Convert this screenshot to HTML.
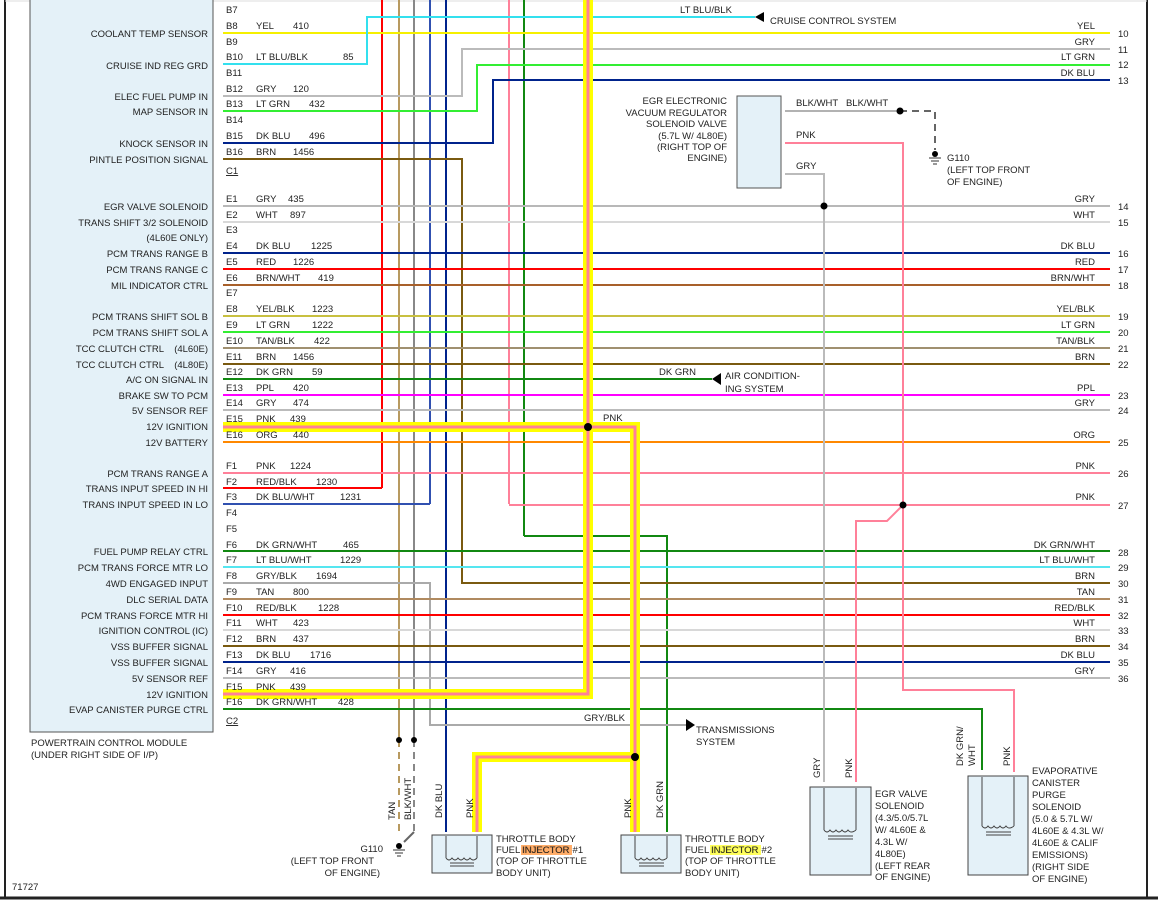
<!DOCTYPE html>
<html><head><meta charset="utf-8"><style>
html,body{margin:0;padding:0;background:#fff;}
svg{display:block;}
text{font-family:"Liberation Sans",Arial,sans-serif;font-size:9.5px;fill:#222;}
.r{text-anchor:end;}
</style></head><body>
<svg width="1158" height="905" viewBox="0 0 1158 905" xmlns="http://www.w3.org/2000/svg">
<rect width="1158" height="905" fill="#fff"/>
<!-- frame -->
<line x1="5" y1="0" x2="5" y2="898" stroke="#222" stroke-width="2"/>
<line x1="1147" y1="0" x2="1147" y2="898" stroke="#222" stroke-width="2"/>
<line x1="0" y1="898" x2="1158" y2="898" stroke="#222" stroke-width="3"/>
<line x1="5" y1="1" x2="1147" y2="1" stroke="#ddd" stroke-width="1"/>
<!-- PCM box -->
<rect x="30" y="-2" width="183" height="734" fill="#e4f1f8" stroke="#555" stroke-width="1"/>
<text x="31" y="746">POWERTRAIN CONTROL MODULE</text>
<text x="31" y="758">(UNDER RIGHT SIDE OF I/P)</text>
<text x="12" y="890">71727</text>

<g fill="none" stroke-width="2">
<!-- verticals -->
<line x1="382" y1="0" x2="382" y2="488" stroke="#ff0000"/>
<line x1="399" y1="0" x2="399" y2="740" stroke="#b89a60"/>
<line x1="414" y1="0" x2="414" y2="740" stroke="#888"/>
<line x1="430" y1="0" x2="430" y2="504" stroke="#3050b0"/>
<line x1="446" y1="0" x2="446" y2="832" stroke="#00238c"/>
<line x1="509" y1="0" x2="509" y2="504" stroke="#ff8099"/>
<line x1="524" y1="0" x2="524" y2="536" stroke="#118811"/>
<polyline points="524,536 667,536 667,832" stroke="#118811"/>
<!-- B rows -->
<polyline points="223,33 1110,33" stroke="#f5f000"/>
<polyline points="223,64 367,64 367,17 755,17" stroke="#33e0ee"/>
<polyline points="223,96 462,96 462,49 1110,49" stroke="#bbb"/>
<polyline points="223,111 477,111 477,65 1110,65" stroke="#33ee33"/>
<polyline points="223,143 493,143 493,80 1110,80" stroke="#00238c"/>
<polyline points="223,159 462,159 462,583 1110,583" stroke="#7a5a10"/>
<!-- E rows -->
<line x1="223" y1="206" x2="1110" y2="206" stroke="#b8b8b8"/>
<line x1="223" y1="222" x2="1110" y2="222" stroke="#d8d8d8"/>
<line x1="223" y1="253" x2="1110" y2="253" stroke="#00238c"/>
<line x1="223" y1="269" x2="1110" y2="269" stroke="#ff0000"/>
<line x1="223" y1="285" x2="1110" y2="285" stroke="#a8602a"/>
<line x1="223" y1="316" x2="1110" y2="316" stroke="#c8c040"/>
<line x1="223" y1="332" x2="1110" y2="332" stroke="#33ee33"/>
<line x1="223" y1="348" x2="1110" y2="348" stroke="#a09070"/>
<line x1="223" y1="364" x2="1110" y2="364" stroke="#7a5a10"/>
<line x1="223" y1="379" x2="712" y2="379" stroke="#118811"/>
<line x1="223" y1="395" x2="1110" y2="395" stroke="#ff00ff"/>
<line x1="223" y1="410" x2="1110" y2="410" stroke="#bbb"/>
<line x1="223" y1="442" x2="1110" y2="442" stroke="#ff8800"/>
<line x1="223" y1="473" x2="1110" y2="473" stroke="#ff8099"/>
<line x1="223" y1="488" x2="382" y2="488" stroke="#ff0000"/>
<line x1="223" y1="504" x2="430" y2="504" stroke="#3050b0"/>
<line x1="509" y1="505" x2="1110" y2="505" stroke="#ff8099"/>
<!-- F rows -->
<line x1="223" y1="551" x2="1110" y2="551" stroke="#118811"/>
<line x1="223" y1="567" x2="1110" y2="567" stroke="#55e6f0"/>
<polyline points="223,583 430,583 430,725 686,725" stroke="#aaa"/>
<line x1="223" y1="599" x2="1110" y2="599" stroke="#b08a60"/>
<line x1="223" y1="615" x2="1110" y2="615" stroke="#ff0000"/>
<line x1="223" y1="630" x2="1110" y2="630" stroke="#d8d8d8"/>
<line x1="223" y1="646" x2="1110" y2="646" stroke="#7a5a10"/>
<line x1="223" y1="662" x2="1110" y2="662" stroke="#00238c"/>
<line x1="223" y1="678" x2="1110" y2="678" stroke="#bbb"/>
<polyline points="223,709 982,709 982,770" stroke="#118811"/>
<!-- EGR reg wires -->
<line x1="785" y1="111" x2="900" y2="111" stroke="#666" stroke-width="1"/>
<polyline points="900,111 935,111 935,150" stroke="#666" stroke-dasharray="7,5"/>
<polyline points="785,143 903,143 903,690 1014,690 1014,772" stroke="#ff8099"/>
<polyline points="903,505 887,521 856,521 856,782" stroke="#ff8099"/>
<polyline points="785,174 824,174 824,782" stroke="#bbb"/>
<!-- ground dashes -->
<line x1="399" y1="740" x2="399" y2="832" stroke="#b89a60" stroke-dasharray="7,5"/>
<line x1="414" y1="740" x2="414" y2="832" stroke="#888" stroke-dasharray="7,5"/>
<line x1="414" y1="832" x2="404" y2="842" stroke="#666"/>
</g>
<!-- highlight -->
<g fill="none" stroke-linejoin="miter">
<polyline points="588,0 588,694 223,694" stroke="#ffff00" stroke-width="10"/>
<polyline points="223,427 635,427 635,757 477,757 477,832" stroke="#ffff00" stroke-width="10"/>
<line x1="635" y1="757" x2="635" y2="832" stroke="#ffff00" stroke-width="10"/>
<polyline points="588,0 588,694 223,694" stroke="#ff8099" stroke-width="3"/>
<polyline points="223,427 635,427 635,757 477,757 477,832" stroke="#ff8099" stroke-width="3"/>
<line x1="635" y1="757" x2="635" y2="832" stroke="#ff8099" stroke-width="3"/>
</g>
<!-- dots -->
<g fill="#000">
<circle cx="588" cy="427" r="4"/><circle cx="635" cy="757" r="4"/>
<circle cx="824" cy="206" r="3.5"/><circle cx="903" cy="505" r="3.5"/>
<circle cx="900" cy="111" r="3.5"/><circle cx="399" cy="740" r="3"/><circle cx="414" cy="740" r="3"/>
<polygon points="755,17 764,12 764,22"/>
<polygon points="712,379 721,373 721,385"/>
<polygon points="695,725 686,719 686,731"/>
<circle cx="399" cy="846" r="3"/><circle cx="935" cy="154" r="3"/>
</g>
<g stroke="#333" stroke-width="1">
<line x1="393" y1="850" x2="405" y2="850"/><line x1="395" y1="853" x2="403" y2="853"/><line x1="397" y1="856" x2="401" y2="856"/>
<line x1="929" y1="158" x2="941" y2="158"/><line x1="931" y1="161" x2="939" y2="161"/><line x1="933" y1="164" x2="937" y2="164"/>
</g>

<!-- PCM labels -->
<g class="r">
<text class="r" x="208" y="37">COOLANT TEMP SENSOR</text>
<text class="r" x="208" y="69">CRUISE IND REG GRD</text>
<text class="r" x="208" y="100">ELEC FUEL PUMP IN</text>
<text class="r" x="208" y="115">MAP SENSOR IN</text>
<text class="r" x="208" y="147">KNOCK SENSOR IN</text>
<text class="r" x="208" y="163">PINTLE POSITION SIGNAL</text>
<text class="r" x="208" y="210">EGR VALVE SOLENOID</text>
<text class="r" x="208" y="226">TRANS SHIFT 3/2 SOLENOID</text>
<text class="r" x="208" y="241">(4L60E ONLY)</text>
<text class="r" x="208" y="257">PCM TRANS RANGE B</text>
<text class="r" x="208" y="273">PCM TRANS RANGE C</text>
<text class="r" x="208" y="289">MIL INDICATOR CTRL</text>
<text class="r" x="208" y="320">PCM TRANS SHIFT SOL B</text>
<text class="r" x="208" y="336">PCM TRANS SHIFT SOL A</text>
<text class="r" x="208" y="352">TCC CLUTCH CTRL &#160;&#160;&#160;(4L60E)</text>
<text class="r" x="208" y="368">TCC CLUTCH CTRL &#160;&#160;&#160;(4L80E)</text>
<text class="r" x="208" y="383">A/C ON SIGNAL IN</text>
<text class="r" x="208" y="399">BRAKE SW TO PCM</text>
<text class="r" x="208" y="414">5V SENSOR REF</text>
<text class="r" x="208" y="430">12V IGNITION</text>
<text class="r" x="208" y="446">12V BATTERY</text>
<text class="r" x="208" y="477">PCM TRANS RANGE A</text>
<text class="r" x="208" y="492">TRANS INPUT SPEED IN HI</text>
<text class="r" x="208" y="508">TRANS INPUT SPEED IN LO</text>
<text class="r" x="208" y="555">FUEL PUMP RELAY CTRL</text>
<text class="r" x="208" y="571">PCM TRANS FORCE MTR LO</text>
<text class="r" x="208" y="587">4WD ENGAGED INPUT</text>
<text class="r" x="208" y="603">DLC SERIAL DATA</text>
<text class="r" x="208" y="619">PCM TRANS FORCE MTR HI</text>
<text class="r" x="208" y="634">IGNITION CONTROL (IC)</text>
<text class="r" x="208" y="650">VSS BUFFER SIGNAL</text>
<text class="r" x="208" y="666">VSS BUFFER SIGNAL</text>
<text class="r" x="208" y="682">5V SENSOR REF</text>
<text class="r" x="208" y="698">12V IGNITION</text>
<text class="r" x="208" y="713">EVAP CANISTER PURGE CTRL</text>
</g>
<!-- pin labels -->
<g>
<text x="226" y="13">B7</text>
<text x="226" y="29">B8</text><text x="256" y="29">YEL</text><text x="293" y="29">410</text>
<text x="226" y="45">B9</text>
<text x="226" y="60">B10</text><text x="256" y="60">LT BLU/BLK</text><text x="343" y="60">85</text>
<text x="226" y="76">B11</text>
<text x="226" y="92">B12</text><text x="256" y="92">GRY</text><text x="293" y="92">120</text>
<text x="226" y="107">B13</text><text x="256" y="107">LT GRN</text><text x="309" y="107">432</text>
<text x="226" y="123">B14</text>
<text x="226" y="139">B15</text><text x="256" y="139">DK BLU</text><text x="309" y="139">496</text>
<text x="226" y="155">B16</text><text x="256" y="155">BRN</text><text x="293" y="155">1456</text>
<text x="226" y="174" text-decoration="underline">C1</text>
<text x="226" y="202">E1</text><text x="256" y="202">GRY</text><text x="288" y="202">435</text>
<text x="226" y="218">E2</text><text x="256" y="218">WHT</text><text x="290" y="218">897</text>
<text x="226" y="233">E3</text>
<text x="226" y="249">E4</text><text x="256" y="249">DK BLU</text><text x="311" y="249">1225</text>
<text x="226" y="265">E5</text><text x="256" y="265">RED</text><text x="293" y="265">1226</text>
<text x="226" y="281">E6</text><text x="256" y="281">BRN/WHT</text><text x="318" y="281">419</text>
<text x="226" y="296">E7</text>
<text x="226" y="312">E8</text><text x="256" y="312">YEL/BLK</text><text x="312" y="312">1223</text>
<text x="226" y="328">E9</text><text x="256" y="328">LT GRN</text><text x="312" y="328">1222</text>
<text x="226" y="344">E10</text><text x="256" y="344">TAN/BLK</text><text x="314" y="344">422</text>
<text x="226" y="360">E11</text><text x="256" y="360">BRN</text><text x="293" y="360">1456</text>
<text x="226" y="375">E12</text><text x="256" y="375">DK GRN</text><text x="312" y="375">59</text>
<text x="226" y="391">E13</text><text x="256" y="391">PPL</text><text x="293" y="391">420</text>
<text x="226" y="406">E14</text><text x="256" y="406">GRY</text><text x="293" y="406">474</text>
<text x="226" y="422">E15</text><text x="256" y="422">PNK</text><text x="290" y="422">439</text>
<text x="226" y="438">E16</text><text x="256" y="438">ORG</text><text x="293" y="438">440</text>
<text x="226" y="469">F1</text><text x="256" y="469">PNK</text><text x="290" y="469">1224</text>
<text x="226" y="485">F2</text><text x="256" y="485">RED/BLK</text><text x="316" y="485">1230</text>
<text x="226" y="500">F3</text><text x="256" y="500">DK BLU/WHT</text><text x="340" y="500">1231</text>
<text x="226" y="516">F4</text>
<text x="226" y="532">F5</text>
<text x="226" y="548">F6</text><text x="256" y="548">DK GRN/WHT</text><text x="343" y="548">465</text>
<text x="226" y="563">F7</text><text x="256" y="563">LT BLU/WHT</text><text x="340" y="563">1229</text>
<text x="226" y="579">F8</text><text x="256" y="579">GRY/BLK</text><text x="316" y="579">1694</text>
<text x="226" y="595">F9</text><text x="256" y="595">TAN</text><text x="293" y="595">800</text>
<text x="226" y="611">F10</text><text x="256" y="611">RED/BLK</text><text x="318" y="611">1228</text>
<text x="226" y="626">F11</text><text x="256" y="626">WHT</text><text x="293" y="626">423</text>
<text x="226" y="642">F12</text><text x="256" y="642">BRN</text><text x="293" y="642">437</text>
<text x="226" y="658">F13</text><text x="256" y="658">DK BLU</text><text x="310" y="658">1716</text>
<text x="226" y="674">F14</text><text x="256" y="674">GRY</text><text x="290" y="674">416</text>
<text x="226" y="690">F15</text><text x="256" y="690">PNK</text><text x="290" y="690">439</text>
<text x="226" y="705">F16</text><text x="256" y="705">DK GRN/WHT</text><text x="338" y="705">428</text>
<text x="226" y="724" text-decoration="underline">C2</text>
</g>
<!-- right labels -->
<g>
<text class="r" x="1095" y="29">YEL</text><text x="1118" y="37">10</text>
<text class="r" x="1095" y="45">GRY</text><text x="1118" y="53">11</text>
<text class="r" x="1095" y="60">LT GRN</text><text x="1118" y="68">12</text>
<text class="r" x="1095" y="76">DK BLU</text><text x="1118" y="84">13</text>
<text class="r" x="1095" y="202">GRY</text><text x="1118" y="210">14</text>
<text class="r" x="1095" y="218">WHT</text><text x="1118" y="226">15</text>
<text class="r" x="1095" y="249">DK BLU</text><text x="1118" y="257">16</text>
<text class="r" x="1095" y="265">RED</text><text x="1118" y="273">17</text>
<text class="r" x="1095" y="281">BRN/WHT</text><text x="1118" y="289">18</text>
<text class="r" x="1095" y="312">YEL/BLK</text><text x="1118" y="320">19</text>
<text class="r" x="1095" y="328">LT GRN</text><text x="1118" y="336">20</text>
<text class="r" x="1095" y="344">TAN/BLK</text><text x="1118" y="352">21</text>
<text class="r" x="1095" y="360">BRN</text><text x="1118" y="368">22</text>
<text class="r" x="1095" y="391">PPL</text><text x="1118" y="399">23</text>
<text class="r" x="1095" y="406">GRY</text><text x="1118" y="414">24</text>
<text class="r" x="1095" y="438">ORG</text><text x="1118" y="446">25</text>
<text class="r" x="1095" y="469">PNK</text><text x="1118" y="477">26</text>
<text class="r" x="1095" y="500">PNK</text><text x="1118" y="509">27</text>
<text class="r" x="1095" y="548">DK GRN/WHT</text><text x="1118" y="556">28</text>
<text class="r" x="1095" y="563">LT BLU/WHT</text><text x="1118" y="571">29</text>
<text class="r" x="1095" y="579">BRN</text><text x="1118" y="587">30</text>
<text class="r" x="1095" y="595">TAN</text><text x="1118" y="603">31</text>
<text class="r" x="1095" y="611">RED/BLK</text><text x="1118" y="619">32</text>
<text class="r" x="1095" y="626">WHT</text><text x="1118" y="634">33</text>
<text class="r" x="1095" y="642">BRN</text><text x="1118" y="650">34</text>
<text class="r" x="1095" y="658">DK BLU</text><text x="1118" y="666">35</text>
<text class="r" x="1095" y="674">GRY</text><text x="1118" y="682">36</text>
</g>
<!-- misc labels -->
<text x="680" y="13">LT BLU/BLK</text>
<text x="770" y="24">CRUISE CONTROL SYSTEM</text>
<text x="659" y="375">DK GRN</text>
<text x="725" y="379">AIR CONDITION-</text>
<text x="725" y="392">ING SYSTEM</text>
<text x="603" y="421">PNK</text>
<text x="584" y="721">GRY/BLK</text>
<text x="696" y="733">TRANSMISSIONS</text>
<text x="696" y="745">SYSTEM</text>
<!-- EGR reg -->
<rect x="737" y="96" width="44" height="92" fill="#e4f1f8" stroke="#555"/>
<text class="r" x="727" y="104">EGR ELECTRONIC</text>
<text class="r" x="727" y="116">VACUUM REGULATOR</text>
<text class="r" x="727" y="127">SOLENOID VALVE</text>
<text class="r" x="727" y="139">(5.7L W/ 4L80E)</text>
<text class="r" x="727" y="150">(RIGHT TOP OF</text>
<text class="r" x="727" y="161">ENGINE)</text>
<text x="796" y="106">BLK/WHT &#160;&#160;BLK/WHT</text>
<text x="796" y="138">PNK</text>
<text x="796" y="169">GRY</text>
<text x="947" y="161">G110</text>
<text x="947" y="173">(LEFT TOP FRONT</text>
<text x="947" y="185">OF ENGINE)</text>
<!-- ground left -->
<text class="r" x="383" y="852">G110</text>
<text class="r" x="374" y="864">(LEFT TOP FRONT</text>
<text class="r" x="380" y="876">OF ENGINE)</text>
<text transform="translate(395,820) rotate(-90)">TAN</text>
<text transform="translate(411,820) rotate(-90)">BLK/WHT</text>
<!-- injectors -->
<g fill="none" stroke="#444" stroke-width="1">
<rect x="432" y="835" width="60" height="38" fill="#e4f1f8"/>
<rect x="621" y="835" width="60" height="38" fill="#e4f1f8"/>
<rect x="810" y="787" width="61" height="88" fill="#e4f1f8"/>
<rect x="968" y="776" width="60" height="99" fill="#e4f1f8"/>
<path d="M446,836 V858 M477,836 V858 M446,858 q3,4 6,0 q3,4 6,0 q3,4 6,0 q3,4 6,0 q3,4 7,0"/>
<path d="M635,836 V858 M667,836 V858 M635,858 q3,4 6,0 q3,4 6,0 q3,4 6,0 q3,4 6,0 q3,4 8,0"/>
<path d="M824,788 V830 M856,788 V830 M824,830 q3,4 6,0 q3,4 6,0 q3,4 6,0 q3,4 6,0 q3,4 8,0"/>
<path d="M982,777 V826 M1014,777 V826 M982,826 q3,4 6,0 q3,4 6,0 q3,4 6,0 q3,4 6,0 q3,4 8,0"/>
<path d="M450,863 H474 M450,866 H474 M639,863 H664 M639,866 H664 M828,836 H853 M828,839 H853 M986,832 H1011 M986,835 H1011"/>
</g>
<text transform="translate(442,818) rotate(-90)">DK BLU</text>
<text transform="translate(473,818) rotate(-90)">PNK</text>
<text transform="translate(631,818) rotate(-90)">PNK</text>
<text transform="translate(663,818) rotate(-90)">DK GRN</text>
<text x="496" y="842">THROTTLE BODY</text>
<text x="496" y="853">FUEL <tspan style="fill:#000" >INJECTOR</tspan> #1</text>
<text x="496" y="864">(TOP OF THROTTLE</text>
<text x="496" y="876">BODY UNIT)</text>
<text x="685" y="842">THROTTLE BODY</text>
<text x="685" y="853">FUEL INJECTOR #2</text>
<text x="685" y="864">(TOP OF THROTTLE</text>
<text x="685" y="876">BODY UNIT)</text>
<rect x="521" y="845" width="51" height="10" fill="#ff9944" opacity="0.8"/>
<rect x="710" y="845" width="51" height="10" fill="#ffff33" opacity="0.8"/>
<text x="522" y="853">INJECTOR</text>
<text x="711" y="853">INJECTOR</text>
<text transform="translate(820,778) rotate(-90)">GRY</text>
<text transform="translate(852,778) rotate(-90)">PNK</text>
<text x="875" y="797">EGR VALVE</text>
<text x="875" y="809">SOLENOID</text>
<text x="875" y="821">(4.3/5.0/5.7L</text>
<text x="875" y="833">W/ 4L60E &amp;</text>
<text x="875" y="845">4.3L W/</text>
<text x="875" y="857">4L80E)</text>
<text x="875" y="869">(LEFT REAR</text>
<text x="875" y="880">OF ENGINE)</text>
<text transform="translate(963,766) rotate(-90)">DK GRN/</text>
<text transform="translate(975,766) rotate(-90)">WHT</text>
<text transform="translate(1010,766) rotate(-90)">PNK</text>
<text x="1032" y="774">EVAPORATIVE</text>
<text x="1032" y="786">CANISTER</text>
<text x="1032" y="798">PURGE</text>
<text x="1032" y="810">SOLENOID</text>
<text x="1032" y="822">(5.0 &amp; 5.7L W/</text>
<text x="1032" y="834">4L60E &amp; 4.3L W/</text>
<text x="1032" y="846">4L60E &amp; CALIF</text>
<text x="1032" y="858">EMISSIONS)</text>
<text x="1032" y="870">(RIGHT SIDE</text>
<text x="1032" y="882">OF ENGINE)</text>
</svg>
</body></html>
